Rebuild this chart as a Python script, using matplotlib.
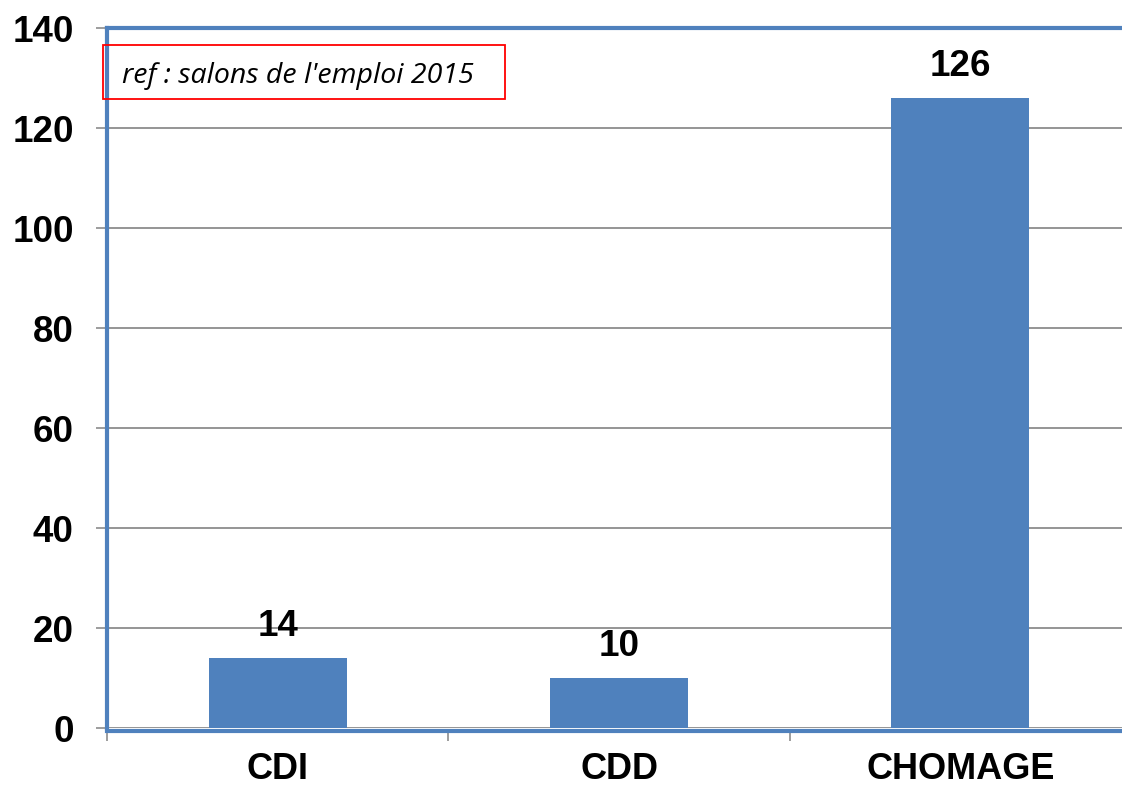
import matplotlib
matplotlib.use("Agg")
from matplotlib import pyplot as plt
from matplotlib.patches import Rectangle

categories = ["CDI", "CDD", "CHOMAGE"]
values = [14, 10, 126]
y_ticks = [0, 20, 40, 60, 80, 100, 120, 140]
note = "ref : salons de l'emploi 2015"

blue = "#4f81bd"
grid_gray = "#8c8c8c"

plt.rcParams['font.family'] = ['Liberation Sans', 'DejaVu Sans']
plt.rcParams['font.weight'] = 'bold'
plt.rcParams['font.size'] = 26.5

fig = plt.figure(figsize=(11.22, 7.88), dpi=100)
# axes runs past the right edge of the figure like in the original
ax = fig.add_axes([107 / 1122, 1 - 728 / 788, 1024 / 1122, 700 / 788])

x = list(range(len(categories)))
ax.bar(x, values, width=0.405, color=blue, zorder=3)

for xi, v in zip(x, values):
    ax.annotate(str(v), (xi, v), xytext=(0, 10), textcoords="offset points",
                ha="center", va="bottom", fontsize=26.5, fontweight="bold")

ax.set_xlim(-0.5, 2.5)
ax.set_ylim(0, 140)
ax.set_yticks(y_ticks)
ax.yaxis.grid(True, color=grid_gray, linewidth=1.3, zorder=0)
ax.set_axisbelow(True)

# category separators as major ticks, names as minor ticks
ax.set_xticks([-0.5, 0.5, 1.5])
ax.set_xticks(x, minor=True)
ax.xaxis.set_major_formatter(plt.NullFormatter())
ax.xaxis.set_minor_formatter(plt.FixedFormatter(categories))
ax.tick_params(axis="x", which="major", direction="out", length=7, width=1.2, color=grid_gray)
ax.tick_params(axis="x", which="minor", length=0, pad=15, labelsize=26)
ax.tick_params(axis="y", direction="out", length=8, width=1.2, color=grid_gray, pad=16, labelsize=26.5)

for side in ["left", "top", "bottom"]:
    ax.spines[side].set_color(blue)
    ax.spines[side].set_linewidth(3)
ax.spines["right"].set_visible(False)
ax.spines["bottom"].set_position(("outward", 2))

# source note in a red box
fig.patches.append(Rectangle((103 / 1122, 1 - 99 / 788), 402 / 1122, 54 / 788,
                             transform=fig.transFigure, fill=False,
                             edgecolor="red", linewidth=1.3, zorder=5))
fig.text(122 / 1122, 1 - 76 / 788, note, fontsize=20.5, style="italic",
         fontweight="normal", family=["Open Sans", "DejaVu Sans"],
         va="center", ha="left")

fig.savefig("out.png", dpi=100)
